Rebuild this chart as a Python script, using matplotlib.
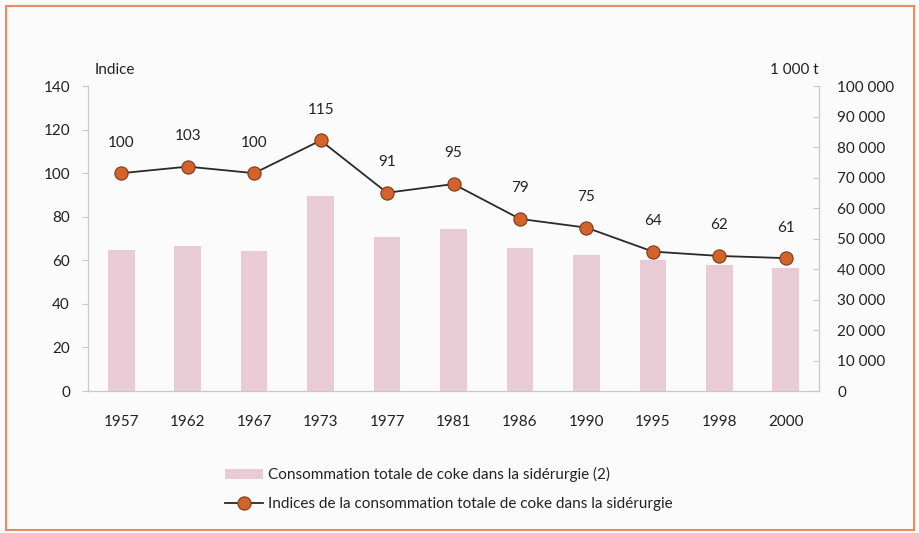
import numpy as np
import matplotlib.pyplot as plt
from matplotlib.patches import Rectangle
from matplotlib.lines import Line2D
from matplotlib.ticker import FuncFormatter

plt.rcParams['font.family'] = ['Lato', 'DejaVu Sans']

years = ['1957', '1962', '1967', '1973', '1977', '1981', '1986', '1990', '1995', '1998', '2000']
# consommation totale de coke (1 000 t)
conso = [46200, 47500, 46000, 64000, 50500, 53000, 47000, 44600, 43000, 41300, 40300]
# indices (1957 = 100)
indices = [100, 103, 100, 115, 91, 95, 79, 75, 64, 62, 61]

bar_label = 'Consommation totale de coke dans la sidérurgie (2)'
line_label = 'Indices de la consommation totale de coke dans la sidérurgie'

pink = '#e9cbd5'
orange = '#d4632b'
axis_grey = '#c8c8c8'
text_col = '#222222'
fs = 11

fig = plt.figure(figsize=(9.2, 5.33), dpi=100, facecolor='#fbfbfb')
# orange frame round the figure
fig.patches.append(Rectangle((0.006, 0.006), 0.988, 0.982, transform=fig.transFigure,
                             fill=False, edgecolor='#e98a60', lw=1.5))

ax = fig.add_axes([0.0957, 0.2664, 0.7945, 0.5722])  # index axis (left)
ax2 = ax.twinx()  # tonnes axis (right)
ax.set_facecolor('none')
ax2.set_zorder(0)
ax.set_zorder(1)

x = np.arange(len(years))

# bars
ax2.bar(x, conso, width=0.4, color=pink, edgecolor='none')
ax2.set_ylim(0, 100000)
ax2.set_yticks(np.arange(0, 100001, 10000))
ax2.yaxis.set_major_formatter(FuncFormatter(lambda v, p: '{:,.0f}'.format(v).replace(',', ' ')))

# line
ax.plot(x, indices, color='#2a2a2a', lw=1.3, marker='o', markersize=9.5,
        markerfacecolor=orange, markeredgecolor='#7a3a1a', markeredgewidth=0.8)
for xi, v in zip(x, indices):
    ax.annotate(str(v), (xi, v), xytext=(0, 17), textcoords='offset points',
                ha='center', va='bottom', fontsize=fs, color=text_col)
ax.set_ylim(0, 140)
ax.set_yticks(np.arange(0, 141, 20))
ax.set_xlim(-0.5, len(years) - 0.5)
ax.set_xticks(x)
ax.set_xticklabels(years)

# cosmetics
for a in [ax, ax2]:
    for s in a.spines.values():
        s.set_color(axis_grey)
        s.set_linewidth(0.8)
    a.spines['top'].set_visible(False)
ax.tick_params(axis='y', direction='out', length=4, width=0.8, color=axis_grey, pad=9,
               labelsize=fs, labelcolor=text_col)
ax.tick_params(axis='x', length=0, pad=17, labelsize=fs, labelcolor=text_col)
ax2.tick_params(axis='y', direction='in', length=4, width=0.8, color=axis_grey, pad=13,
                labelsize=fs, labelcolor=text_col)

ax.text(0.0095, 1.052, 'Indice', transform=ax.transAxes, ha='left', va='center',
        fontsize=fs, color=text_col)
ax2.text(1.0, 1.052, '1 000 t', transform=ax2.transAxes, ha='right', va='center',
         fontsize=fs, color=text_col)

# legend
handles = [Rectangle((0, 0), 1, 1, facecolor=pink, edgecolor='none'),
           Line2D([0], [0], color='#2a2a2a', lw=1.3, marker='o', markersize=9.5,
                  markerfacecolor=orange, markeredgecolor='#7a3a1a', markeredgewidth=0.8)]
fig.legend(handles, [bar_label, line_label], loc='upper left', bbox_to_anchor=(0.238, 0.135),
           frameon=False, fontsize=fs, handlelength=2.5, handletextpad=0.3,
           labelspacing=1.0, borderaxespad=0, labelcolor=text_col)

plt.savefig('out.png', dpi=100, facecolor=fig.get_facecolor())
plt.close()
